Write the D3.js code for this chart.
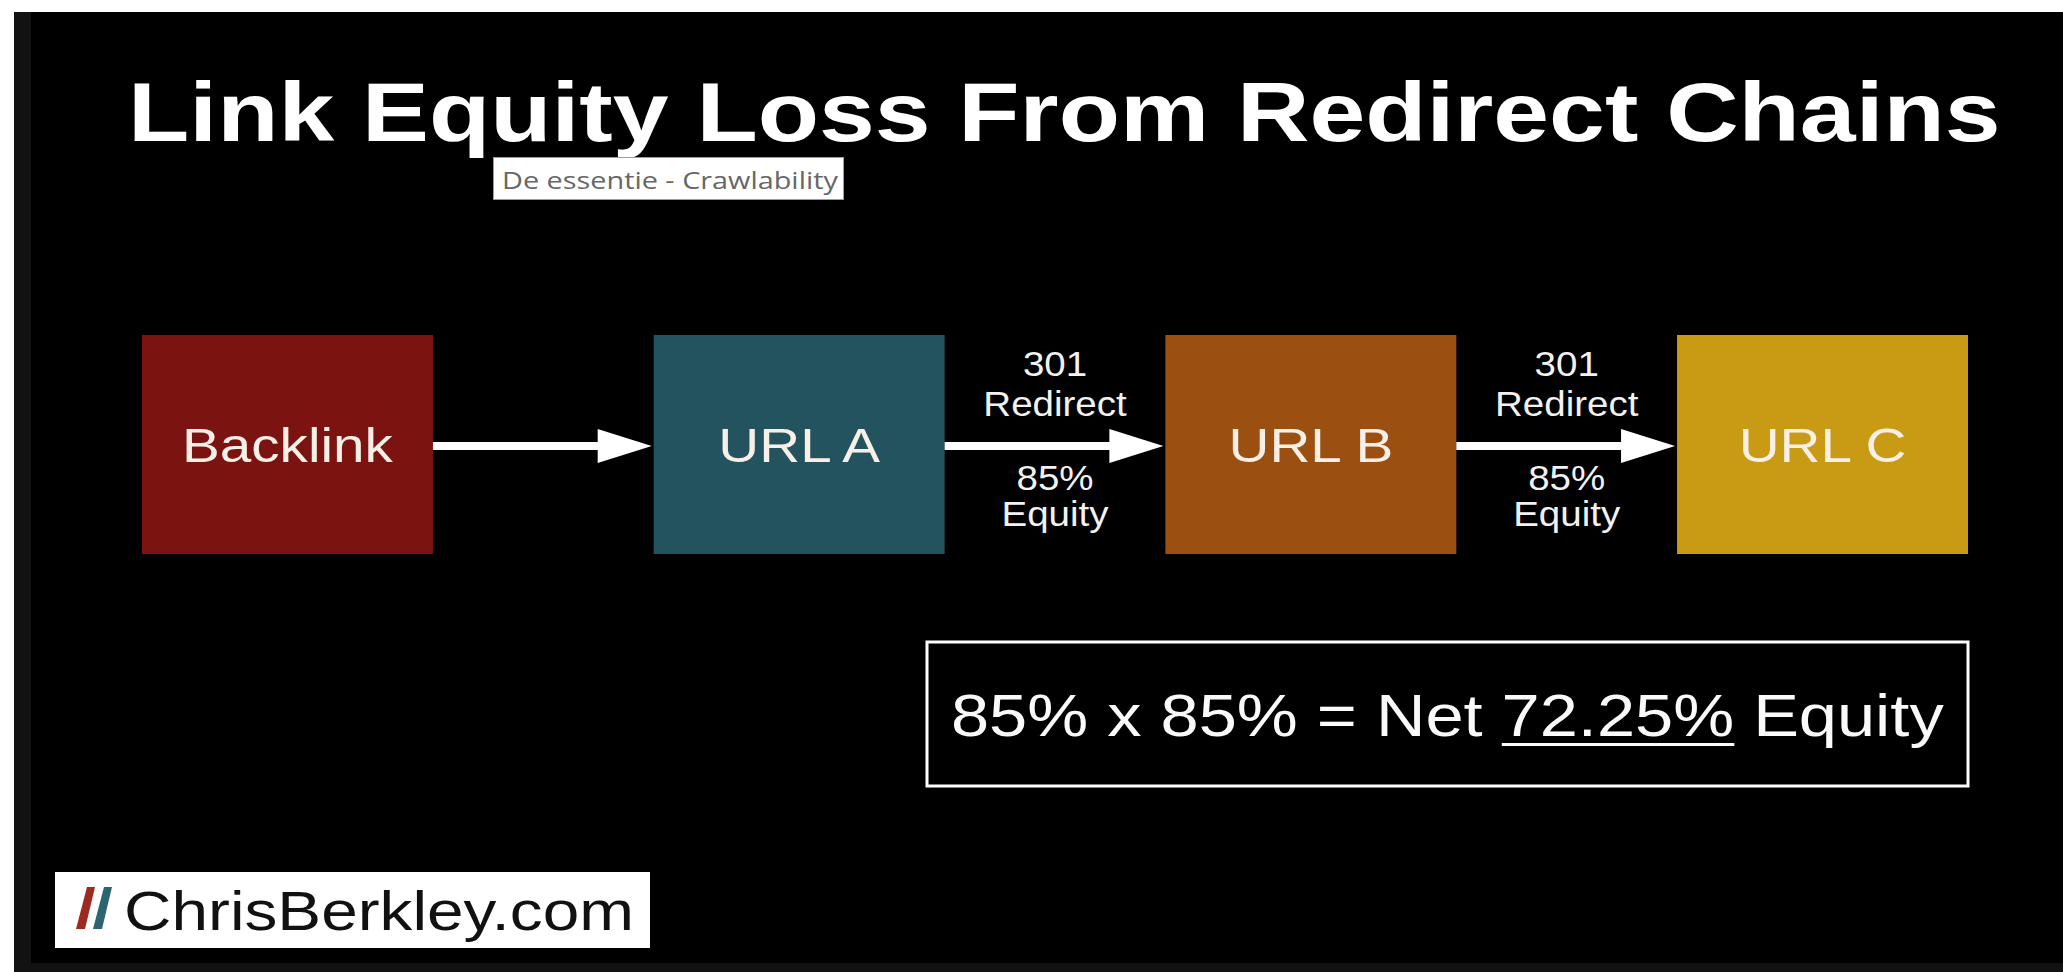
<!DOCTYPE html>
<html>
<head>
<meta charset="utf-8">
<script src="https://cdn.jsdelivr.net/npm/d3@7"></script>
<style>
  html, body { margin: 0; padding: 0; background: #fff; overflow: hidden; }
  svg { display: block; }
</style>
</head>
<body>
<svg id="chart" width="2063" height="972"></svg>
<script>
// ---- content -------------------------------------------------------------
const titleText   = "Link Equity Loss From Redirect Chains";
const tooltipText = "De essentie - Crawlability";
const pages       = ["Backlink", "URL A", "URL B", "URL C"];
const pageColors  = ["#7b1411", "#22535f", "#9b4f11", "#c99a14"];
// one entry per hop pages[i] -> pages[i+1]; the backlink hop carries no label
const hopStatus   = [null, "301", "301"];
const hopKind     = [null, "Redirect", "Redirect"];
const hopEquity   = [null, 85, 85];          // % of equity passed on
const brandText   = "ChrisBerkley.com";
const brandColors = ["#9c2a20", "#2b6572"];

// ---- derived -------------------------------------------------------------
const passed = hopEquity.filter(v => v != null);
const netEquity = passed.reduce((acc, v) => acc * v / 100, 100);   // 72.25
const eqPrefix = passed.map(v => v + "%").join(" x ") + " = Net ";
const eqValue  = netEquity + "%";
const eqSuffix = " Equity";

// ---- setup ---------------------------------------------------------------
const W = 2063, H = 972;
const FONT = "'Liberation Sans', Arial, Helvetica, sans-serif";
const svg = d3.select("#chart");

// stretch a text element horizontally around its anchor point
function place(sel, x, y, sx) {
  sel.attr("x", 0).attr("y", 0)
     .attr("transform", `translate(${x},${y}) scale(${sx},1)`);
  return sel;
}
function fitWidth(sel, x, y, target) {
  sel.attr("x", 0).attr("y", 0);
  const w = sel.node().getComputedTextLength();
  return place(sel, x, y, target / w);
}

// ---- frame ---------------------------------------------------------------
svg.append("rect").attr("width", W).attr("height", H).attr("fill", "#ffffff");
svg.append("rect").attr("x", 14).attr("y", 12).attr("width", W - 14).attr("height", H - 12)
   .attr("fill", "#121212");
svg.append("rect").attr("x", 31).attr("y", 12).attr("width", W - 31).attr("height", 951)
   .attr("fill", "#000000");

// ---- title ---------------------------------------------------------------
fitWidth(svg.append("text")
  .attr("font-family", FONT).attr("font-weight", "bold").attr("font-size", 83)
  .attr("fill", "#ffffff").text(titleText), 128, 141, 1873);

// ---- tooltip overlay -----------------------------------------------------
svg.append("rect").attr("x", 493.5).attr("y", 157.5).attr("width", 350).attr("height", 42)
   .attr("fill", "#ffffff").attr("stroke", "#9c9c9c").attr("stroke-width", 1);
fitWidth(svg.append("text")
  .attr("font-family", "'Open Sans', 'Noto Sans', sans-serif").attr("font-size", 24.5)
  .attr("fill", "#676767").text(tooltipText), 502, 189, 336);

// ---- chain of pages ------------------------------------------------------
const x = d3.scaleBand().domain(pages).range([142, 1968]).paddingInner(0.4314).paddingOuter(0);
const color = d3.scaleOrdinal().domain(pages).range(pageColors);
const bw = x.bandwidth();
const boxTop = 335, boxH = 219, midY = 446;

const nodes = svg.append("g").selectAll("g").data(pages).join("g");
nodes.append("rect")
  .attr("x", d => x(d)).attr("y", boxTop)
  .attr("width", bw).attr("height", boxH)
  .attr("fill", d => color(d));
nodes.append("text")
  .attr("text-anchor", "middle")
  .attr("font-family", FONT).attr("font-size", 48)
  .attr("fill", "#f8efe6")
  .text(d => d)
  .each(function (d) { place(d3.select(this), x(d) + bw / 2, 462, 1.18); });

// arrows between consecutive pages
const hops = pages.slice(1).map((p, i) => ({
  from: pages[i], to: p,
  status: hopStatus[i], kind: hopKind[i], equity: hopEquity[i]
}));
const shaft = 4, headLen = 54, headHalf = 17;
const arrowPath = h => {
  const x0 = x(h.from) + bw, x1 = x(h.to) - 2, xh = x1 - headLen;
  return `M${x0},${midY - shaft}L${xh},${midY - shaft}L${xh},${midY - headHalf}` +
         `L${x1},${midY}L${xh},${midY + headHalf}L${xh},${midY + shaft}L${x0},${midY + shaft}Z`;
};
const links = svg.append("g").selectAll("g").data(hops).join("g");
links.append("path").attr("d", arrowPath).attr("fill", "#ffffff");

const hopLabel = (sel, accessor, y) =>
  sel.filter(h => h.status != null).append("text")
    .attr("text-anchor", "middle")
    .attr("font-family", FONT).attr("font-size", 35)
    .attr("fill", "#f2f2f2")
    .text(accessor)
    .each(function (h) {
      const cx = (x(h.from) + bw + x(h.to)) / 2;
      place(d3.select(this), cx, y, 1.1);
    });
hopLabel(links, h => h.status, 376);
hopLabel(links, h => h.kind, 416);
hopLabel(links, h => h.equity + "%", 490);
hopLabel(links, () => "Equity", 526);

// ---- net equity summary --------------------------------------------------
svg.append("rect").attr("x", 927).attr("y", 642).attr("width", 1041).attr("height", 144)
   .attr("fill", "none").attr("stroke", "#ffffff").attr("stroke-width", 3);
const eq = svg.append("text")
  .attr("font-family", FONT).attr("font-size", 60).attr("fill", "#fafafa");
eq.append("tspan").text(eqPrefix);
eq.append("tspan").text(eqValue);
eq.append("tspan").text(eqSuffix);
fitWidth(eq, 951, 736, 993);
{
  const node = eq.node();
  const sx = 993 / node.getComputedTextLength();
  const a = node.getSubStringLength(0, eqPrefix.length);
  const b = node.getSubStringLength(eqPrefix.length, eqValue.length);
  svg.append("rect")
    .attr("x", 951 + a * sx).attr("y", 743)
    .attr("width", b * sx).attr("height", 3)
    .attr("fill", "#fafafa");
}

// ---- brand badge ---------------------------------------------------------
svg.append("rect").attr("x", 55).attr("y", 872).attr("width", 595).attr("height", 76)
   .attr("fill", "#ffffff");
const slash = (x0, col) => svg.append("path")
  .attr("d", `M${x0 + 11},887L${x0 + 19},887L${x0 + 9},929L${x0},929Z`)
  .attr("fill", col);
brandColors.forEach((c, i) => slash(76 + i * 17, c));
fitWidth(svg.append("text")
  .attr("font-family", FONT).attr("font-size", 56)
  .attr("fill", "#111111").text(brandText), 124, 930, 510);
</script>
</body>
</html>
